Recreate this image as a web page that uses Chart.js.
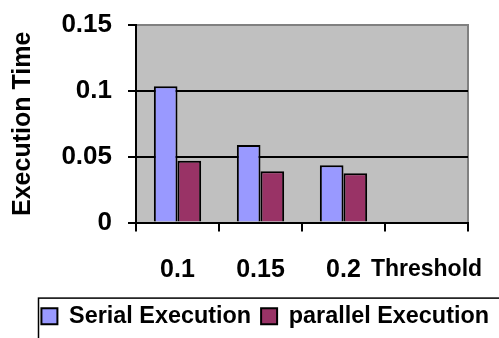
<!DOCTYPE html>
<html>
<head>
<meta charset="utf-8">
<script src="https://cdn.jsdelivr.net/npm/chart.js@4.4.1/dist/chart.umd.min.js"></script>
<style>
    body { margin: 0; background: #fff; }
    #wrap { width: 499px; height: 338px; position: relative; }
</style>
</head>
<body>
<div id="wrap"><canvas id="execChart"></canvas></div>
<script>
// chart data
const categories = ['0.1', '0.15', '0.2', 'Threshold'];
const serialTimes = [0.1035, 0.059, 0.0435, null];
const parallelTimes = [0.047, 0.039, 0.0375, null];
const yTickValues = [0, 0.05, 0.1, 0.15];
const yTickLabels = ['0', '0.05', '0.1', '0.15'];

const FONT = 'Liberation Sans, Arial';

// gray plot area + the gray top/right border, and the box round the legend
const plotFrame = {
    id: 'plotFrame',
    beforeDraw(chart) {
        const a = chart.chartArea;
        const c = chart.ctx;
        c.save();
        c.fillStyle = '#c0c0c0';
        c.fillRect(a.left, a.top, a.right - a.left, a.bottom - a.top);
        c.strokeStyle = '#808080';
        c.lineWidth = 2;
        c.beginPath();
        c.moveTo(a.left, a.top);
        c.lineTo(a.right, a.top);
        c.lineTo(a.right, a.bottom);
        c.stroke();
        c.restore();
    },
    afterDraw(chart) {
        const lg = chart.legend;
        const c = chart.ctx;
        c.save();
        c.strokeStyle = '#000';
        c.lineWidth = 1.5;
        c.strokeRect(38.5, lg.top + 3.5, 480, 60);
        c.restore();
    }
};

var ctx = document.getElementById('execChart').getContext('2d');
var execChart = new Chart(ctx, {
    type: 'bar',
    data: {
        labels: categories,
        datasets: [{
            label: 'Serial Execution',
            data: serialTimes,
            backgroundColor: '#9999ff',
            borderColor: '#000',
            borderWidth: 2
        }, {
            label: 'parallel Execution',
            data: parallelTimes,
            backgroundColor: '#993366',
            borderColor: '#000',
            borderWidth: 2
        }]
    },
    options: {
        responsive: true,
        maintainAspectRatio: false,
        animation: false,
        layout: {
            padding: { left: 0, right: 0, top: 25, bottom: 0 }
        },
        datasets: {
            bar: { barPercentage: 1, categoryPercentage: 0.57 }
        },
        plugins: {
            tooltip: { enabled: false },
            legend: {
                position: 'bottom',
                align: 'end',
                labels: {
                    color: '#000',
                    font: { family: FONT, size: 23.4, weight: 'bold' },
                    boxWidth: 16,
                    boxHeight: 16,
                    padding: 10
                }
            }
        },
        scales: {
            x: {
                offset: true,
                border: { color: '#000', width: 2 },
                grid: {
                    offset: true,
                    drawOnChartArea: false,
                    drawTicks: true,
                    tickLength: 9,
                    tickColor: '#000',
                    lineWidth: 2
                },
                ticks: {
                    color: '#000',
                    padding: 24,
                    maxRotation: 0,
                    autoSkip: false,
                    font: (c) => ({
                        family: FONT,
                        weight: 'bold',
                        size: c.index === 3 ? 23 : 25
                    })
                },
                afterFit: (scale) => {
                    scale.height = 72;
                    // don't let the long last label squeeze the plot
                    scale.paddingLeft = 0;
                    scale.paddingRight = 0;
                }
            },
            y: {
                min: 0,
                max: 0.15,
                border: { color: '#000', width: 2 },
                grid: {
                    color: (c) => (c.tick && c.tick.value >= 0.15) ? 'rgba(0,0,0,0)' : '#000',
                    lineWidth: 2,
                    tickLength: 8,
                    tickColor: '#000'
                },
                afterBuildTicks: (scale) => {
                    scale.ticks = yTickValues.map((v) => ({ value: v }));
                },
                ticks: {
                    color: '#000',
                    padding: 16,
                    font: { family: FONT, size: 26, weight: 'bold' },
                    callback: (value, index) => yTickLabels[index]
                },
                title: {
                    display: true,
                    text: 'Execution Time',
                    color: '#000',
                    font: { family: FONT, size: 25, weight: 'bold' },
                    padding: { top: 8, bottom: 0 }
                },
                afterFit: (scale) => {
                    scale.width = 136;
                    scale.paddingTop = 0;
                    scale.paddingBottom = 0;
                }
            },
            // empty strip on the right so the plot stops short of the edge
            // while the legend can still run out to it
            yRight: {
                position: 'right',
                display: true,
                grid: { display: false },
                border: { display: false },
                ticks: { display: false },
                afterFit: (scale) => { scale.width = 31; }
            }
        }
    },
    plugins: [plotFrame]
});
</script>
</body>
</html>
